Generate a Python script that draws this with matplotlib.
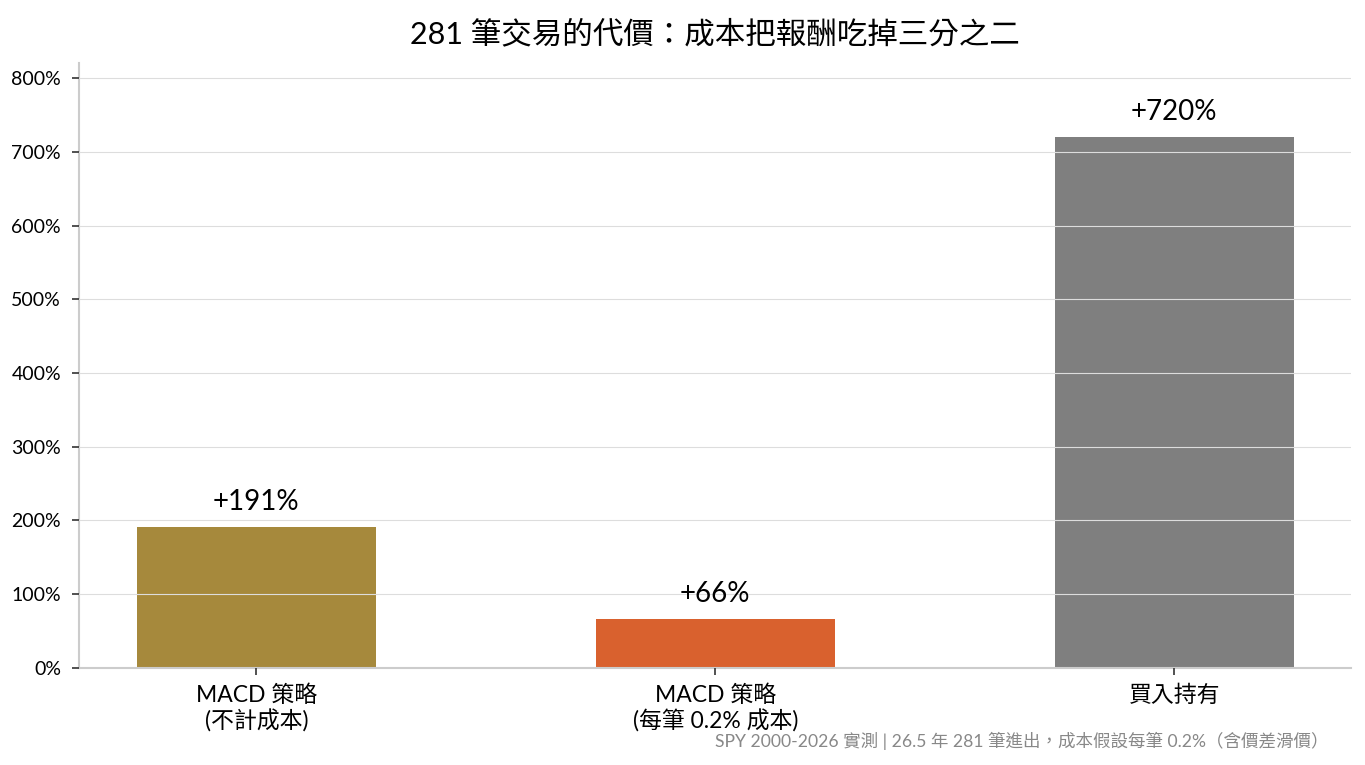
import matplotlib
matplotlib.use("Agg")
import matplotlib.pyplot as plt

plt.rcParams['font.family'] = ['Lato', 'Noto Sans CJK TC', 'DejaVu Sans']

# --- 資料 ---
categories = ['MACD 策略\n(不計成本)', 'MACD 策略\n(每筆 0.2% 成本)', '買入持有']
returns = [191, 66, 720]
colors = ['#A6893C', '#D9612E', '#7F7F7F']
yticks = [0, 100, 200, 300, 400, 500, 600, 700, 800]

fig, ax = plt.subplots(figsize=(13.65, 7.65), dpi=100)
fig.subplots_adjust(left=0.058, right=0.99, bottom=0.127, top=0.918)

x = range(len(categories))
ax.bar(x, returns, width=0.52, color=colors, zorder=1)

for xi, v in zip(x, returns):
    ax.text(xi, v + 17, f'+{v}%', ha='center', va='bottom', fontsize=20, zorder=3)

ax.set_ylim(0, max(returns) * 1.14)
ax.set_yticks(yticks)
ax.set_yticklabels([f'{t}%' for t in yticks], fontsize=14)
ax.set_xticks(list(x))
ax.set_xticklabels(categories, fontsize=16.5, linespacing=1.2)

ax.grid(axis='y', color='#dddddd', linewidth=0.8, zorder=2)
ax.set_axisbelow(False)
for s in ['top', 'right']:
    ax.spines[s].set_visible(False)
for s in ['left', 'bottom']:
    ax.spines[s].set_color('#cccccc')
    ax.spines[s].set_linewidth(1.5)
ax.tick_params(axis='y', length=5, width=1.2, color='#333333', pad=8)
ax.tick_params(axis='x', length=5, width=1.2, color='#333333', pad=7)

ax.set_title('281 筆交易的代價：成本把報酬吃掉三分之二', fontsize=22, pad=14)
fig.text(0.973, 0.031, 'SPY 2000-2026 實測 | 26.5 年 281 筆進出，成本假設每筆 0.2%（含價差滑價）',
         ha='right', va='center', fontsize=12.6, color='#888888')

fig.savefig('out.png', dpi=100)
